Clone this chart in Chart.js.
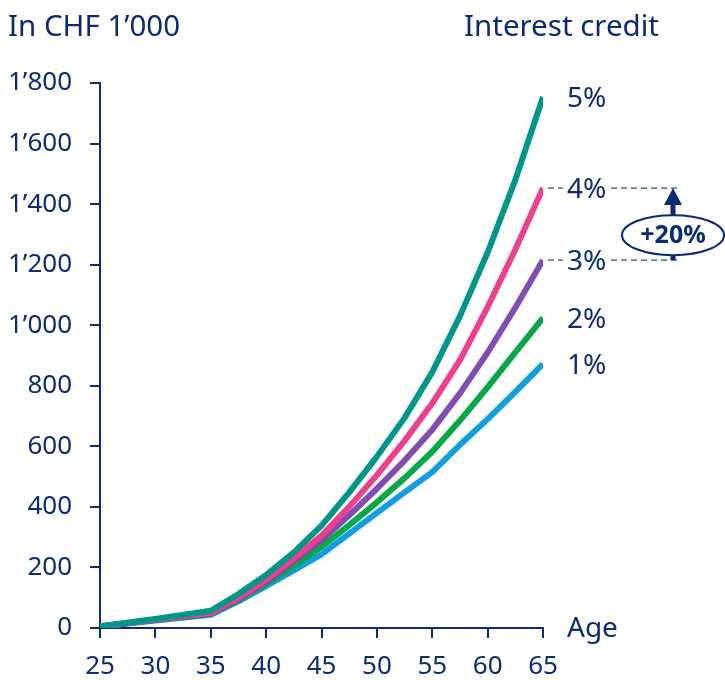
<!DOCTYPE html>
<html>
<head>
<meta charset="utf-8">
<script src="https://cdn.jsdelivr.net/npm/chart.js@4.4.1/dist/chart.umd.min.js"></script>
<style>
  body { margin: 0; background: #fff; }
  #myChart { display: block; }
</style>
</head>
<body>
<canvas id="myChart" width="725" height="680"></canvas>
<script>
// Alter und Werte (in CHF 1'000)
var ages  = [25, 30, 35, 37.5, 40, 42.5, 45, 47.5, 50, 52.5, 55, 57.5, 60, 62.5, 65];
var rate1 = [5, 25, 44, 88, 138, 190, 243, 312, 380, 448, 515, 605, 690, 780, 872];
var rate2 = [5, 26, 46, 92, 145, 205, 268, 340, 415, 495, 582, 685, 795, 910, 1024];
var rate3 = [5, 27, 48, 95, 152, 220, 290, 372, 460, 553, 655, 775, 910, 1058, 1215];
var rate4 = [5, 28, 50, 100, 160, 230, 305, 400, 505, 618, 742, 885, 1060, 1250, 1453];
var rate5 = [6, 30, 57, 112, 175, 250, 338, 448, 566, 694, 845, 1030, 1240, 1480, 1754];

var seriesLabels = ['5%', '4%', '3%', '2%', '1%'];
var xTicks = ['25', '30', '35', '40', '45', '50', '55', '60', '65'];
var yTicks = ['0', '200', '400', '600', '800', '1’000', '1’200', '1’400', '1’600', '1’800'];

var navy = '#0b2a78';
var fontFam = '"Noto Sans", "Open Sans", sans-serif';

function toPoints(values) {
    return values.map(function (v, i) { return { x: ages[i], y: v }; });
}

function makeSet(label, values, color) {
    return {
        label: label,
        data: toPoints(values),
        borderColor: color,
        borderWidth: 6,
        borderJoinStyle: 'round',
        pointRadius: 0,
        fill: false,
        tension: 0
    };
}

var ctx = document.getElementById('myChart').getContext('2d');
var myChart = new Chart(ctx, {
    type: 'line',
    data: {
        datasets: [
            makeSet(seriesLabels[0], rate5, '#00968a'),
            makeSet(seriesLabels[1], rate4, '#ee3f8c'),
            makeSet(seriesLabels[2], rate3, '#804db0'),
            makeSet(seriesLabels[3], rate2, '#07a845'),
            makeSet(seriesLabels[4], rate1, '#129fe0')
        ]
    },
    options: {
        responsive: false,
        animation: false,
        layout: { padding: { left: 0, right: 182, top: 83, bottom: 0 } },
        plugins: {
            legend: { display: false },
            tooltip: { enabled: false }
        },
        scales: {
            x: {
                type: 'linear',
                min: 25,
                max: 65,
                afterFit: function (scale) { scale.height = 52; },
                border: { display: true, color: navy, width: 2 },
                grid: { drawOnChartArea: false, color: navy, lineWidth: 2, tickLength: 10 },
                ticks: {
                    stepSize: 5,
                    color: navy,
                    padding: 13,
                    font: { family: fontFam, size: 26 },
                    callback: function (v, i) { return xTicks[i]; }
                }
            },
            y: {
                min: 0,
                max: 1800,
                afterFit: function (scale) { scale.width = 100; },
                border: { display: true, color: navy, width: 2 },
                grid: { drawOnChartArea: false, color: navy, lineWidth: 2, tickLength: 10 },
                ticks: {
                    stepSize: 200,
                    color: navy,
                    padding: 18,
                    font: { family: fontFam, size: 26 },
                    callback: function (v, i) { return yTicks[i]; }
                }
            }
        }
    },
    plugins: [{
        afterDraw: function (chart) {
            var c = chart.ctx;
            var area = chart.chartArea;
            var yScale = chart.scales.y;
            var lastIdx = ages.length - 1;
            c.save();
            c.fillStyle = navy;
            c.textBaseline = 'middle';
            c.textAlign = 'left';

            // Titel oben
            c.font = '29.5px ' + fontFam;
            c.fillText('In CHF 1’000', 8, 28);
            c.fillText('Interest credit', 464, 28);
            c.font = '28px ' + fontFam;
            c.fillText('Age', area.right + 24, area.bottom + 1);

            // Beschriftung am Ende jeder Linie
            var endY = [];
            chart.data.datasets.forEach(function (ds, i) {
                var y = yScale.getPixelForValue(ds.data[lastIdx].y);
                endY.push(y);
                c.fillText(seriesLabels[i], area.right + 24, y + 2);
            });

            // gestrichelte Linien bei 4% und 3%
            var y4 = endY[1], y3 = endY[2];
            c.strokeStyle = '#2f4f90';
            c.lineWidth = 1.3;
            c.setLineDash([6, 4]);
            [y4, y3].forEach(function (y) {
                c.beginPath();
                c.moveTo(area.right + 5, y);
                c.lineTo(area.right + 20, y);
                c.moveTo(area.right + 68, y);
                c.lineTo(area.right + 135, y);
                c.stroke();
            });
            c.setLineDash([]);

            // Pfeil
            var ax = area.right + 130;
            c.fillStyle = navy;
            c.fillRect(ax - 2.5, y4 + 14, 5, y3 - y4 - 14);
            c.beginPath();
            c.moveTo(ax, y4);
            c.lineTo(ax + 9, y4 + 17);
            c.lineTo(ax - 9, y4 + 17);
            c.closePath();
            c.fill();

            // Ellipse mit +20%
            var ey = y3 - 25;
            c.beginPath();
            c.ellipse(ax, ey, 51, 20, 0, 0, Math.PI * 2);
            c.fillStyle = '#fff';
            c.fill();
            c.strokeStyle = navy;
            c.lineWidth = 2;
            c.stroke();
            c.fillStyle = navy;
            c.textAlign = 'center';
            c.font = 'bold 25px ' + fontFam;
            c.fillText('+20%', ax, ey + 1);
            c.restore();
        }
    }]
});
</script>
</body>
</html>
